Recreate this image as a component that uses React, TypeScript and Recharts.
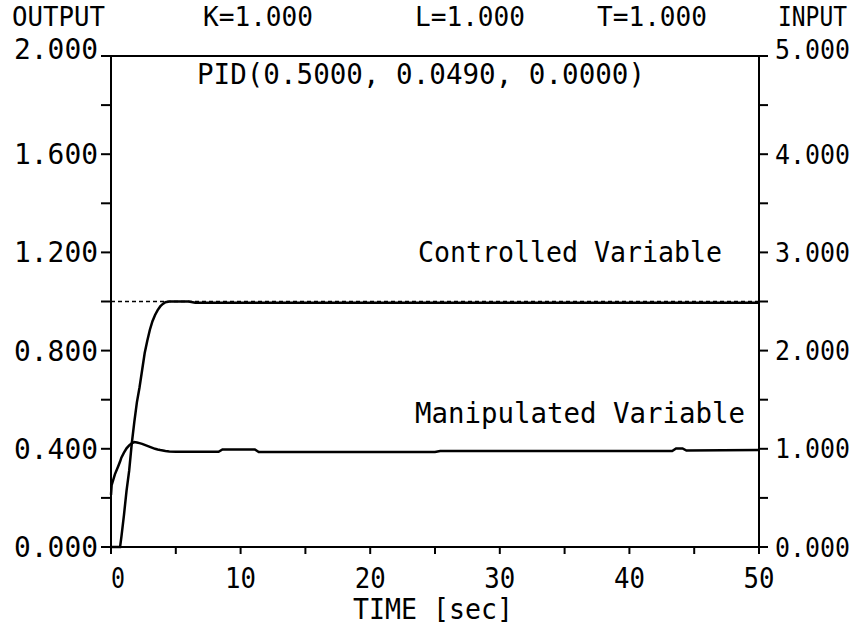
import React from 'react';
import { ComposedChart, Line, XAxis, YAxis, ReferenceLine } from 'recharts';

const time = [0, 0.05, 0.3, 0.55, 0.7, 0.8, 1.0, 1.2, 1.4, 1.6, 1.8, 2.0, 2.2, 2.4, 2.6, 2.8, 3.0, 3.2, 3.4, 3.6, 3.8, 4.0, 4.2, 4.5, 5, 6, 6.5, 8.3, 8.6, 11.1, 11.4, 25, 25.4, 43.3, 43.6, 44.1, 44.4, 50];
const controlled = [0, 0, 0, 0, 0, 0.04, 0.13, 0.23, 0.31, 0.42, 0.51, 0.59, 0.65, 0.72, 0.79, 0.84, 0.885, 0.92, 0.945, 0.965, 0.98, 0.99, 0.997, 1.0, 1.0, 1.0, 0.995, 0.995, 0.995, 0.995, 0.995, 0.995, 0.995, 0.995, 0.995, 0.995, 0.995, 0.995];
const manipulated = [0.53, 0.63, 0.74, 0.82, 0.87, 0.91, 0.96, 1.005, 1.035, 1.055, 1.068, 1.065, 1.058, 1.05, 1.04, 1.03, 1.02, 1.01, 1.0, 0.993, 0.987, 0.982, 0.977, 0.972, 0.97, 0.97, 0.97, 0.97, 0.993, 0.993, 0.968, 0.968, 0.978, 0.978, 1.003, 1.003, 0.982, 0.988];

const timeTicks = [0, 5, 10, 15, 20, 25, 30, 35, 40, 45, 50];
const outputTicks = [0, 0.2, 0.4, 0.6, 0.8, 1.0, 1.2, 1.4, 1.6, 1.8, 2.0];
const inputTicks = [0, 0.5, 1, 1.5, 2, 2.5, 3, 3.5, 4, 4.5, 5];
const setpoint = 1.0;

const data = time.map((t, i) => ({ t, cv: controlled[i], mv: manipulated[i] }));

const FONT = "'DejaVu Sans Mono', monospace";
const FS = 29;

const LeftTick = (props: any) => {
  const { x, y, payload } = props;
  const v = payload.value as number;
  if (Math.round(v * 10) % 4 !== 0) return <g />;
  return (
    <text x={x} y={y + (v === 2 ? -7 : 0)} textAnchor="end" dominantBaseline="central" fontFamily={FONT} fontSize={FS} fill="#000" textLength={84} lengthAdjust="spacingAndGlyphs">
      {v.toFixed(3)}
    </text>
  );
};

const RightTick = (props: any) => {
  const { x, y, payload } = props;
  const v = payload.value as number;
  if (Math.round(v * 10) % 10 !== 0) return <g />;
  return (
    <text x={x} y={y + (v === 5 ? -7 : 0)} textAnchor="start" dominantBaseline="central" fontFamily={FONT} fontSize={27} fill="#000" textLength={75} lengthAdjust="spacingAndGlyphs">
      {v.toFixed(3)}
    </text>
  );
};

const BottomTick = (props: any) => {
  const { x, y, payload } = props;
  const v = payload.value as number;
  if (v % 10 !== 0) return <g />;
  const s = String(v);
  return (
    <text x={x + (v === 0 ? 7 : 0)} y={y} dy="0.75em" textAnchor="middle" fontFamily={FONT} fontSize={FS} fill="#000" textLength={s.length === 1 ? 14 : 31} lengthAdjust="spacingAndGlyphs">
      {s}
    </text>
  );
};

const txt = (x: number, y: number, s: string, len: number, fs: number = FS) => (
  <text x={x} y={y} textAnchor="start" fontFamily={FONT} fontSize={fs} fill="#000" textLength={len} lengthAdjust="spacingAndGlyphs">{s}</text>
);

export default function App() {
  const axisStyle = { stroke: '#000', strokeWidth: 2 };
  return (
    <div style={{ position: 'absolute', left: 0, top: 0, width: 858, height: 630, background: '#fff' }}>
      <ComposedChart width={858} height={630} data={data} margin={{ top: 56, right: 0, bottom: 0, left: 0 }}>
        <XAxis
          dataKey="t"
          type="number"
          domain={[0, 50]}
          ticks={timeTicks}
          interval={0}
          height={83}
          tickSize={7}
          tickMargin={12}
          axisLine={axisStyle}
          tickLine={axisStyle}
          tick={<BottomTick />}
        />
        <YAxis
          yAxisId="left"
          orientation="left"
          type="number"
          domain={[0, 2]}
          ticks={outputTicks}
          interval={0}
          width={111}
          tickSize={10}
          tickMargin={3}
          axisLine={axisStyle}
          tickLine={axisStyle}
          tick={<LeftTick />}
        />
        <YAxis
          yAxisId="right"
          orientation="right"
          type="number"
          domain={[0, 5]}
          ticks={inputTicks}
          interval={0}
          width={99}
          tickSize={9}
          tickMargin={7}
          axisLine={axisStyle}
          tickLine={axisStyle}
          tick={<RightTick />}
        />
        <ReferenceLine yAxisId="left" y={2} stroke="#000" strokeWidth={2} />
        <ReferenceLine yAxisId="left" y={setpoint} stroke="#000" strokeWidth={1.5} strokeDasharray="4 3" />
        <Line yAxisId="left" dataKey="cv" type="linear" stroke="#000" strokeWidth={2.5} dot={false} isAnimationActive={false} />
        <Line yAxisId="right" dataKey="mv" type="linear" stroke="#000" strokeWidth={2.5} dot={false} isAnimationActive={false} />
      </ComposedChart>
      <svg width={858} height={630} style={{ position: 'absolute', left: 0, top: 0, pointerEvents: 'none' }}>
        {txt(12, 26, 'OUTPUT', 93, 27)}
        {txt(203, 26, 'K=1.000', 110, 27)}
        {txt(415, 26, 'L=1.000', 110, 27)}
        {txt(597, 26, 'T=1.000', 110, 27)}
        {txt(778, 26, 'INPUT', 69, 27)}
        {txt(197, 84, 'PID(0.5000, 0.0490, 0.0000)', 448)}
        {txt(418, 262, 'Controlled Variable', 304)}
        {txt(415, 423, 'Manipulated Variable', 330)}
        {txt(353, 619, 'TIME [sec]', 160)}
      </svg>
    </div>
  );
}
